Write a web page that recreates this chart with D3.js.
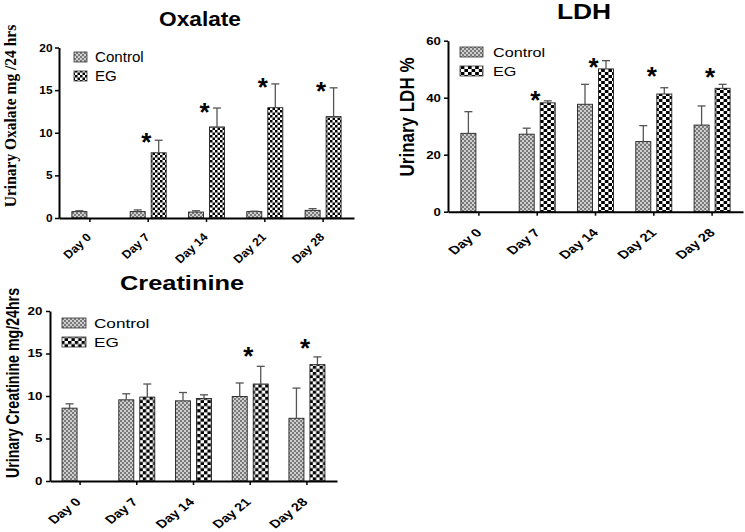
<!DOCTYPE html>
<html><head><meta charset="utf-8">
<script src="https://cdn.jsdelivr.net/npm/d3@7"></script>
<style>body{margin:0;background:#fff} svg{display:block}</style>
</head><body>
<svg id="c" width="745" height="532"></svg>
<script>
const days = ["Day 0","Day 7","Day 14","Day 21","Day 28"];
const series = ["Control","EG"];

const oxalateControl    = [0.75,0.75,0.70,0.75,0.90];
const oxalateControlSem = [0.10,0.20,0.15,0.05,0.20];
const oxalateEG         = [null,7.65,10.68,12.94,11.89];
const oxalateEGSem      = [null,1.47,2.22,2.79,3.38];
const oxalateStars      = [null,9.5,13.0,15.9,15.5];
const oxalateTicks      = [0,5,10,15,20];

const ldhControl    = [27.5,27.2,37.7,24.6,30.4];
const ldhControlSem = [7.6,2.1,7.0,5.6,6.7];
const ldhEG         = [null,38.2,50.1,41.3,43.3];
const ldhEGSem      = [null,0.7,2.9,2.2,1.4];
const ldhStars      = [null,40.9,52.5,49.4,49.0];
const ldhTicks      = [0,20,40,60];

const creatControl    = [8.57,9.55,9.43,9.94,7.38];
const creatControlSem = [0.51,0.71,0.98,1.59,3.55];
const creatEG         = [null,9.87,9.71,11.41,13.69];
const creatEGSem      = [null,1.54,0.43,2.08,0.91];
const creatStars      = [null,null,null,15.27,16.18];
const creatTicks      = [0,5,10,15,20];

const SANS = "'Liberation Sans', Arial, sans-serif";
const SERIF = "'Liberation Serif', 'Times New Roman', serif";

const svg = d3.select("#c");
const defs = svg.append("defs");

function ctrlPattern(id){
  const p = defs.append("pattern").attr("id", id).attr("patternUnits","userSpaceOnUse")
    .attr("width",4).attr("height",4);
  p.append("rect").attr("width",4).attr("height",4).attr("fill","#cfcfcf");
  p.append("rect").attr("width",2).attr("height",2).attr("fill","#7a7a7a");
  p.append("rect").attr("x",2).attr("y",2).attr("width",2).attr("height",2).attr("fill","#7a7a7a");
}
function checkPattern(id, cw, ch){
  const p = defs.append("pattern").attr("id", id).attr("patternUnits","userSpaceOnUse")
    .attr("width",cw*2).attr("height",ch*2);
  p.append("rect").attr("width",cw*2).attr("height",ch*2).attr("fill","#fff");
  p.append("rect").attr("width",cw).attr("height",ch).attr("fill","#000");
  p.append("rect").attr("x",cw).attr("y",ch).attr("width",cw).attr("height",ch).attr("fill","#000");
}
ctrlPattern("ctrl");
checkPattern("egOx", 2.5, 2.5);
checkPattern("egLdh", 3.6, 3.0);
checkPattern("egCr", 3.4, 3.1);

function stext(parent, x, y, str, o){
  const t = parent.append("text")
    .attr("transform", `translate(${x},${y}) scale(${o.sx||1},1)` + (o.rot ? ` rotate(${o.rot})` : ""))
    .attr("font-family", o.family || SANS)
    .attr("font-size", o.size)
    .attr("font-weight", o.weight || "bold")
    .attr("text-anchor", o.anchor || "start")
    .attr("fill", "#000")
    .text(str);
  return t;
}

function panel(cfg){
  const g = svg.append("g");
  const x = d3.scaleBand().domain(days).range([cfg.left, cfg.right]).paddingOuter(0.03).paddingInner(0);
  const xs = d3.scaleBand().domain(series).range([-18, 18]).paddingInner(0.286).paddingOuter(0);
  const y = d3.scaleLinear().domain([0, cfg.max]).range([cfg.y0, cfg.yTop]);
  const cx = d => x(d) + x.bandwidth()/2;

  // bars
  const sets = [
    {s:"Control", vals:cfg.control, sem:cfg.controlSem, fill:"url(#ctrl)"},
    {s:"EG", vals:cfg.eg, sem:cfg.egSem, fill:`url(#${cfg.egPat})`}
  ];
  sets.forEach(set => {
    const data = days.map((d,i)=>({d, v:set.vals[i], e:set.sem[i]})).filter(r => r.v != null);
    g.selectAll(null).data(data).enter().append("rect")
      .attr("x", r => cx(r.d) + xs(set.s))
      .attr("width", xs.bandwidth())
      .attr("y", r => y(r.v))
      .attr("height", r => y(0) - y(r.v))
      .attr("fill", set.fill)
      .attr("stroke", "#222").attr("stroke-width", 0.9);
    const eb = g.selectAll(null).data(data).enter().append("g")
      .attr("stroke", "#555").attr("stroke-width", 1.3);
    eb.append("line")
      .attr("x1", r => cx(r.d) + xs(set.s) + xs.bandwidth()/2)
      .attr("x2", r => cx(r.d) + xs(set.s) + xs.bandwidth()/2)
      .attr("y1", r => y(r.v)).attr("y2", r => y(r.v + r.e));
    eb.append("line")
      .attr("x1", r => cx(r.d) + xs(set.s) + xs.bandwidth()/2 - 4)
      .attr("x2", r => cx(r.d) + xs(set.s) + xs.bandwidth()/2 + 4)
      .attr("y1", r => y(r.v + r.e)).attr("y2", r => y(r.v + r.e));
  });

  // stars
  days.forEach((d,i) => {
    if (cfg.stars[i] == null) return;
    stext(g, cx(d) - 2, y(cfg.stars[i]) + 14, "*", {size:26, anchor:"middle"});
  });

  // y axis
  const gy = g.append("g").attr("transform", `translate(${cfg.left},0)`)
    .call(d3.axisLeft(y).tickValues(cfg.ticks).tickSize(4).tickSizeOuter(0).tickPadding(2).tickFormat(d3.format("d")));
  gy.select(".domain").attr("stroke","#000").attr("stroke-width",2);
  gy.selectAll(".tick line").attr("stroke","#000").attr("stroke-width",1.5);
  gy.selectAll(".tick text").attr("font-family",SANS).attr("font-weight","bold")
    .attr("font-size",cfg.tickSize).attr("fill","#000")
    .attr("transform", `scale(${cfg.sx},1)`);

  // x axis
  const gx = g.append("g").attr("transform", `translate(0,${cfg.y0})`)
    .call(d3.axisBottom(x).tickSize(4).tickSizeOuter(0));
  gx.select(".domain").attr("stroke","#000").attr("stroke-width",2);
  gx.selectAll(".tick line").attr("stroke","#000").attr("stroke-width",1.5);
  gx.selectAll(".tick text").attr("font-family",SANS).attr("font-weight","bold")
    .attr("font-size",cfg.xlabSize).attr("fill","#000")
    .attr("text-anchor","end").attr("y",0).attr("dy","0.35em")
    .attr("transform", `translate(${cfg.xlabDx},${cfg.xlabDy}) scale(${cfg.xsx},1) rotate(-45)`);

  // legend
  const lg = g.append("g");
  series.forEach((s,i) => {
    lg.append("rect").attr("x", cfg.legX).attr("y", cfg.legY + i*cfg.legGap)
      .attr("width", cfg.swW).attr("height", 10)
      .attr("fill", i === 0 ? "url(#ctrl)" : `url(#${cfg.egPat})`)
      .attr("stroke","#333").attr("stroke-width",0.8);
    stext(lg, cfg.legX + cfg.swW + cfg.legTx, cfg.legY + i*cfg.legGap + 10, s,
      {size:cfg.legSize, weight:"normal", sx:cfg.sx});
  });

  // title
  stext(g, cfg.titleX, cfg.titleY, cfg.title, {size:cfg.titleSize, anchor:"middle", sx:cfg.sx});
  // y label
  stext(g, cfg.ylabX, cfg.ylabY, cfg.ylab, {size:cfg.ylabSize, anchor:"middle", sx:cfg.sx, rot:-90,
    family: cfg.ylabFamily || SANS});
}

panel({
  title:"Oxalate", titleX:200, titleY:26, titleSize:21,
  ylab:"Urinary Oxalate mg /24 hrs", ylabX:15.5, ylabY:116, ylabSize:15.5, ylabFamily:SERIF,
  left:59, right:354, y0:218, yTop:47.5, max:20, ticks:oxalateTicks, tickSize:11, sx:1.08,
  control:oxalateControl, controlSem:oxalateControlSem, eg:oxalateEG, egSem:oxalateEGSem,
  stars:oxalateStars, egPat:"egOx",
  xlabSize:11.5, xsx:1.08, xlabDx:-1, xlabDy:17,
  legX:74, legY:52, legGap:19, swW:13, legTx:8, legSize:14
});

panel({
  title:"LDH", titleX:584, titleY:19, titleSize:22,
  ylab:"Urinary LDH %", ylabX:414, ylabY:117, ylabSize:17,
  left:448, right:743, y0:211.7, yTop:40.7, max:60, ticks:ldhTicks, tickSize:11, sx:1.2,
  control:ldhControl, controlSem:ldhControlSem, eg:ldhEG, egSem:ldhEGSem,
  stars:ldhStars, egPat:"egLdh",
  xlabSize:11.5, xsx:1.3, xlabDx:0, xlabDy:19,
  legX:460, legY:47, legGap:19, swW:23, legTx:10, legSize:13.5
});

panel({
  title:"Creatinine", titleX:182, titleY:290, titleSize:20,
  ylab:"Urinary Creatinine mg/24hrs", ylabX:19, ylabY:383, ylabSize:14.2,
  left:50, right:337, y0:481, yTop:311, max:20, ticks:creatTicks, tickSize:10.5, sx:1.27,
  control:creatControl, controlSem:creatControlSem, eg:creatEG, egSem:creatEGSem,
  stars:creatStars, egPat:"egCr",
  xlabSize:11.5, xsx:1.27, xlabDx:-2, xlabDy:19,
  legX:62, legY:318, legGap:19, swW:24, legTx:8, legSize:13.5
});
</script>
</body></html>
